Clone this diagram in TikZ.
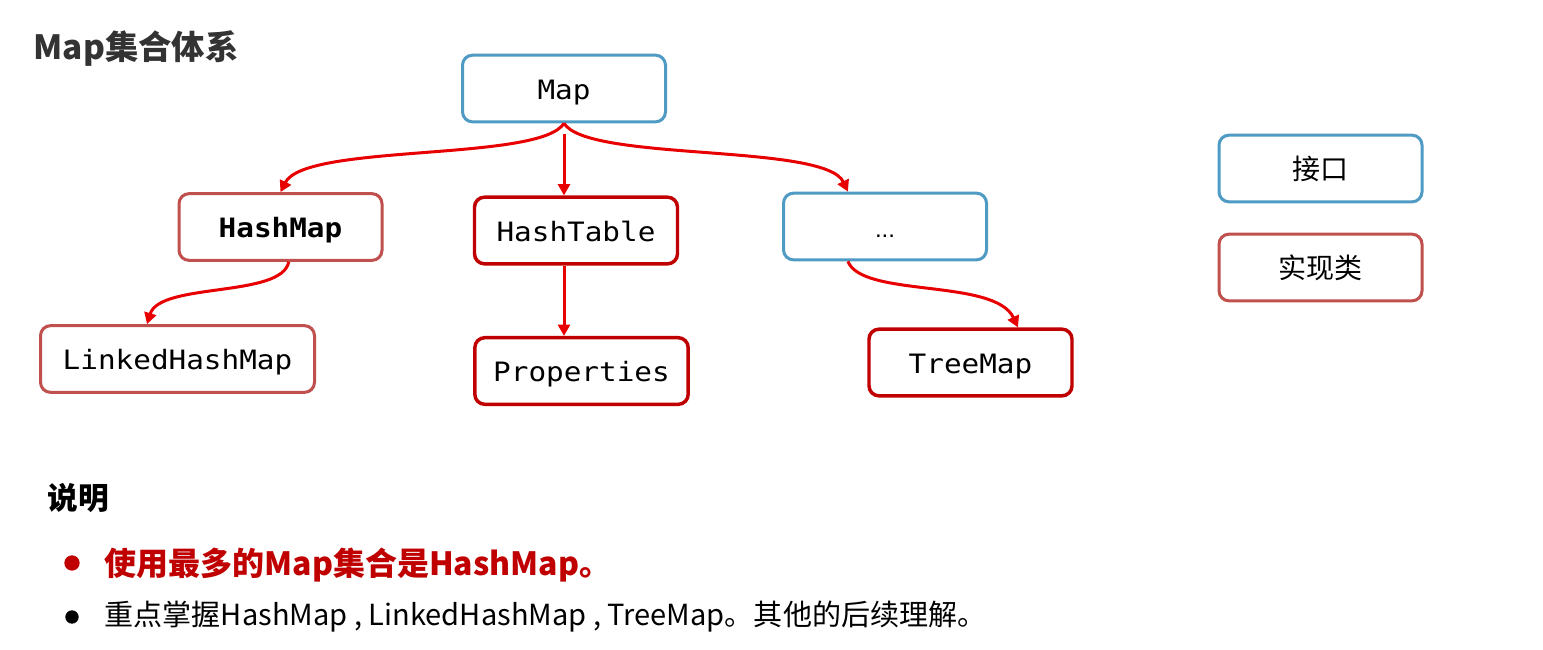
\documentclass[tikz,border=0pt]{standalone}
\usepackage{fontspec}
\setmainfont{Noto Sans CJK SC}
\newfontfamily\monof[FakeStretch=1.1]{DejaVu Sans Mono}
\newfontfamily\dotsf{Liberation Sans}
\usetikzlibrary{arrows.meta,calc}
\definecolor{ifblue}{RGB}{79,155,196}
\definecolor{impl}{RGB}{192,80,77}
\definecolor{darkred}{RGB}{192,0,0}
\definecolor{arr}{RGB}{232,0,0}
\definecolor{titlegray}{RGB}{51,51,51}
\begin{document}
\begin{tikzpicture}[x=0.75pt,y=-0.75pt,
  box/.style={draw, rounded corners=7.5pt, fill=white, inner sep=0pt,
    minimum width=152.25pt, minimum height=50pt,
    font=\monof\fontsize{20}{24}\selectfont, text height=16pt, text depth=-3.5pt},
  iface/.style={box, draw=ifblue, line width=2.25pt},
  implbox/.style={box, draw=impl, line width=2.25pt},
  concrete/.style={box, draw=darkred, line width=2.6pt},
  arrow/.style={draw=arr, line width=2.25pt, -{Triangle[length=8.5pt,width=9pt]}},
  legend/.style={font=\fontsize{21}{25}\selectfont, text height=, text depth=}]
\useasboundingbox[fill=white] (0,0) rectangle (1543,650);

% title
\node[anchor=west, text=titlegray, font=\bfseries\fontsize{25}{30}\selectfont] (title) at (29,49) {Map集合体系};

% hierarchy
\node[iface] (Map) at (564,88.5) {Map};
\node[implbox, font=\monof\bfseries\fontsize{20}{24}\selectfont] (HashMap) at (280.5,227) {HashMap};
\node[concrete] (HashTable) at (576,230.5) {HashTable};
\node[iface, font=\dotsf\fontsize{18}{20}\selectfont] (dots) at (885,226.5) {...};
\node[implbox, minimum width=205.5pt] (Linked) at (177.5,359) {LinkedHashMap};
\node[concrete, minimum width=160pt] (Props) at (581.5,371) {Properties};
\node[concrete] (Tree) at (970.5,362.5) {TreeMap};

% legend
\node[iface, legend] (lgI) at (1320.5,168.5) {接口};
\node[implbox, legend] (lgC) at (1320.5,267.5) {实现类};

% connectors
\draw[arrow] (Map.south) .. controls (540,162) and (305,143) .. (HashMap.north);
\draw[arrow] ($(Map.south)+(0,11)$) -- (Map.south |- HashTable.north);
\coordinate (dotsIn) at ($(dots.north west)!0.32!(dots.north east)$);
\draw[arrow] (Map.south) .. controls (588,162) and (825,143) .. (dotsIn);
\draw[arrow] (Map.south |- HashTable.south) -- (Map.south |- Props.north);
\coordinate (hmOut) at ($(HashMap.south west)!0.54!(HashMap.south east)$);
\coordinate (lkIn) at ($(Linked.north west)!0.39!(Linked.north east)$);
\draw[arrow] (hmOut) .. controls (282,298) and (160,282) .. (lkIn);
\coordinate (dotsOut) at ($(dots.south west)!0.32!(dots.south east)$);
\coordinate (trIn) at ($(Tree.north west)!0.73!(Tree.north east)$);
\draw[arrow] (dotsOut) .. controls (862,298) and (995,278) .. (trIn);

% explanation
\node[anchor=west, font=\bfseries\fontsize{23}{28}\selectfont] (expl) at (43,498) {说明};
\node[circle, fill=darkred, inner sep=0pt, minimum size=11.5pt] (b1) at (72,563) {};
\node[anchor=west, text=darkred, font=\bfseries\fontsize{24}{29}\selectfont] (t1) at (100,565) {使用最多的Map集合是HashMap。};
\node[circle, fill=black, inner sep=0pt, minimum size=10pt] (b2) at (72,617) {};
\node[anchor=west, font=\fontsize{21.8}{26}\selectfont] (t2) at (100,617) {重点掌握HashMap , LinkedHashMap , TreeMap。其他的后续理解。};
\end{tikzpicture}
\end{document}
